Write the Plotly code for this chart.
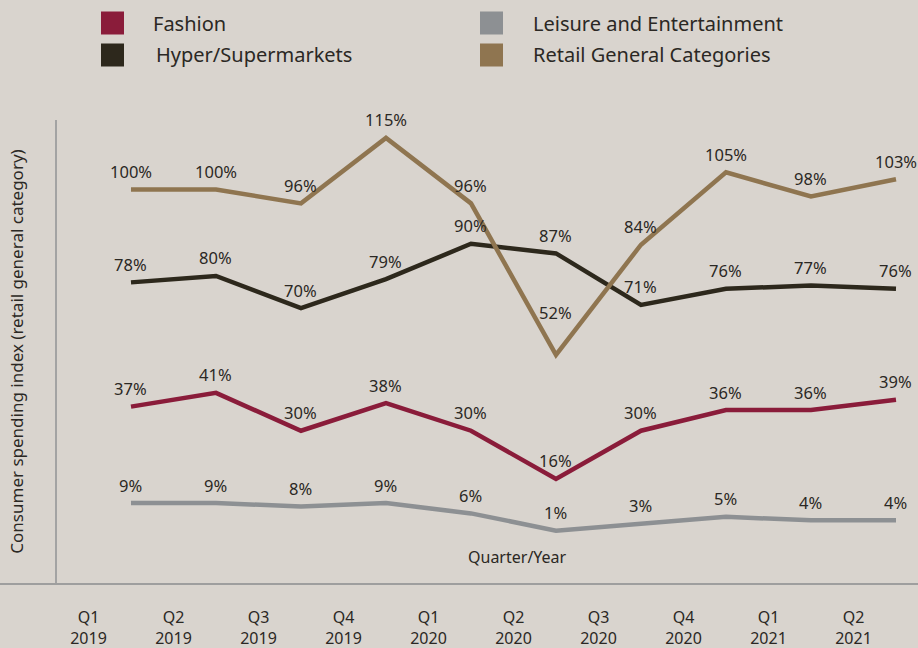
import plotly.graph_objects as go

# Quarterly consumer spending index by category (% of retail general category)
quarters = ["Q1", "Q2", "Q3", "Q4", "Q1", "Q2", "Q3", "Q4", "Q1", "Q2"]
years = ["2019", "2019", "2019", "2019", "2020", "2020", "2020", "2020", "2021", "2021"]
fashion = [37, 41, 30, 38, 30, 16, 30, 36, 36, 39]
hyper_supermarkets = [78, 80, 70, 79, 90, 87, 71, 76, 77, 76]
leisure_entertainment = [9, 9, 8, 9, 6, 1, 3, 5, 4, 4]
retail_general = [100, 100, 96, 115, 96, 52, 84, 105, 98, 103]

BG = "#d9d4ce"
TEXT = "#2b2824"
RULE = "#9e9e9e"
FONT = "Noto Sans"

series = [
    # name, values, colour, y-axis
    ("Hyper/Supermarkets", hyper_supermarkets, "#2d281c", "y"),
    ("Leisure and Entertainment", leisure_entertainment, "#8d9093", "y2"),
    ("Fashion", fashion, "#8a1c3a", "y2"),
    ("Retail General Categories", retail_general, "#8f7550", "y2"),
]

x = list(range(len(quarters)))

fig = go.Figure()
annotations = []
for name, vals, color, yax in series:
    fig.add_trace(go.Scatter(
        x=x, y=vals, mode="lines", name=name, yaxis=yax,
        line=dict(color=color, width=4.5, shape="linear"),
        showlegend=False, hoverinfo="skip",
    ))
    for i, v in enumerate(vals):
        shift = 18
        if name == "Retail General Categories" and v == 52:
            shift = 42  # keep the trough label clear of the steep segments
        annotations.append(dict(
            x=i, y=v, xref="x", yref=yax, text=f"{v}%", showarrow=False,
            yanchor="middle", yshift=shift,
            font=dict(family=FONT, size=16.5, color=TEXT),
        ))

# plot area spans the full figure width; the value axis sits inset from the left
W, H = 918, 648
L, R, T, B = 0, 0, 120, 65
AXIS_X = 56
pw, ph = W - L - R, H - T - B


def px(xp):
    return (xp - L) / pw


def py(yp):
    return (H - B - yp) / ph


# custom two-column legend with square swatches
legend_items = [
    ("Fashion", "#8a1c3a", 101, 151, 23),
    ("Hyper/Supermarkets", "#2d281c", 101, 154, 55),
    ("Leisure and Entertainment", "#8d9093", 480, 531, 23),
    ("Retail General Categories", "#8f7550", 480, 531, 55),
]
shapes = []
for label, color, sx, tx, cy in legend_items:
    shapes.append(dict(
        type="rect", xref="paper", yref="paper",
        x0=px(sx), x1=px(sx + 23), y0=py(cy + 11.5), y1=py(cy - 11.5),
        fillcolor=color, line=dict(width=0),
    ))
    annotations.append(dict(
        x=px(tx), y=py(cy), xref="paper", yref="paper", text=label,
        showarrow=False, xanchor="left", yanchor="middle",
        font=dict(family=FONT, size=20, color=TEXT),
    ))

annotations.append(dict(
    x=px(517), y=py(557), xref="paper", yref="paper", text="Quarter/Year",
    showarrow=False, xanchor="center", yanchor="middle",
    font=dict(family=FONT, size=16, color=TEXT),
))

fig.update_layout(
    width=W, height=H,
    margin=dict(l=L, r=R, t=T, b=B, autoexpand=False),
    paper_bgcolor=BG, plot_bgcolor=BG,
    font=dict(family=FONT, color=TEXT),
    showlegend=False,
    xaxis=dict(
        range=[-1.541, 9.259],
        tickmode="array",
        tickvals=[i - 0.5 for i in x],
        ticktext=[f"{q}<br>{y}" for q, y in zip(quarters, years)],
        tickfont=dict(family=FONT, size=16, color=TEXT),
        ticklabelstandoff=19,
        showgrid=False, zeroline=False, ticks="",
        showline=True, linecolor=RULE, linewidth=1.5,
        fixedrange=True,
    ),
    yaxis=dict(
        range=[-15.5, 128.5],
        anchor="free", position=px(AXIS_X),
        showgrid=False, zeroline=False, showticklabels=False, ticks="",
        showline=True, linecolor="#a3a3a3", linewidth=1.5,
        title=dict(
            text="Consumer spending index (retail general category)",
            font=dict(family=FONT, size=17, color=TEXT),
            standoff=26,
        ),
        automargin=False,
    ),
    yaxis2=dict(
        range=[-14.2, 120.2], overlaying="y",
        showgrid=False, zeroline=False, showticklabels=False, ticks="",
        showline=False,
    ),
    shapes=shapes,
    annotations=annotations,
)

fig.write_html("out.html")
